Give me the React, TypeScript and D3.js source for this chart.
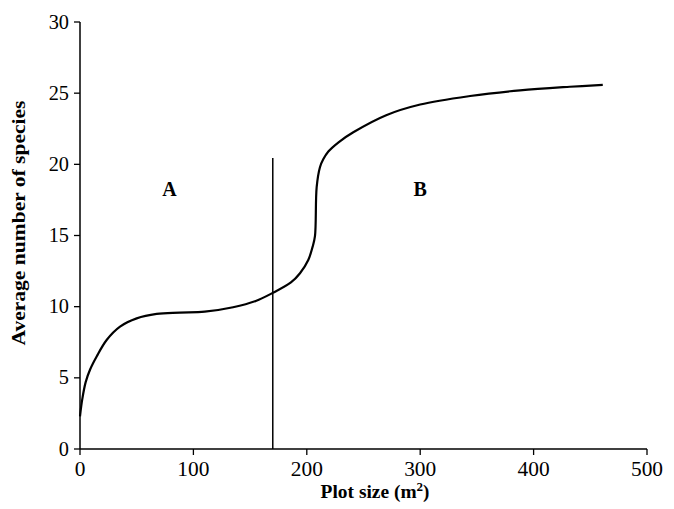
import React from "react";
import * as d3 from "d3";

const plotSizes = [0, 2, 5, 9, 14.7, 23.5, 35.3, 50, 67.6, 88, 110, 135, 155, 169.6, 186, 194, 201.3, 205.1, 207.2, 208.7, 211.6, 214.5, 219, 228, 241, 270, 300, 344, 388, 432, 461];
const species = [2.3, 3.5, 4.7, 5.6, 6.5, 7.66, 8.6, 9.18, 9.49, 9.58, 9.65, 9.96, 10.4, 10.95, 11.7, 12.35, 13.28, 14.2, 14.95, 18.4, 19.8, 20.35, 20.9, 21.55, 22.25, 23.45, 24.2, 24.8, 25.2, 25.45, 25.58];
const xTicks = [0, 100, 200, 300, 400, 500];
const yTicks = [0, 5, 10, 15, 20, 25, 30];
const divider = { x: 170, top: 20.45 };
const regionLabels = [
  { text: "A", x: 79, y: 17.8 },
  { text: "B", x: 300, y: 17.8 },
];

const W = 674, H = 509;
const m = { left: 80, right: 27, top: 22, bottom: 60 };
const font = "'Liberation Serif', 'DejaVu Serif', serif";

export default function App() {
  const x = d3.scaleLinear().domain([0, 500]).range([m.left, W - m.right]);
  const y = d3.scaleLinear().domain([0, 30]).range([H - m.bottom, m.top]);
  const pts: [number, number][] = plotSizes.map((v, i) => [v, species[i]]);
  const line = d3.line<[number, number]>().x(d => x(d[0])).y(d => y(d[1])).curve(d3.curveCatmullRom.alpha(0.5));
  const y0 = y(0);
  const tl = (t: number) => String(t).length * 10.7;
  return (
    <svg width={W} height={H} style={{ position: "absolute", left: 0, top: 0, background: "#fff" }}>
      <line x1={x(0)} x2={x(500)} y1={y0} y2={y0} stroke="#000" strokeWidth={1.5} />
      <line x1={x(0)} x2={x(0)} y1={y(0)} y2={y(30)} stroke="#000" strokeWidth={1.5} />
      {xTicks.map(t => (
        <g key={"x" + t}>
          <line x1={x(t)} x2={x(t)} y1={y0} y2={y0 + 6} stroke="#000" strokeWidth={1.3} />
          <text x={x(t)} y={y0 + 27} textAnchor="middle" fontFamily={font} fontSize={20} textLength={tl(t)} lengthAdjust="spacingAndGlyphs">{t}</text>
        </g>
      ))}
      {yTicks.map(t => (
        <g key={"y" + t}>
          <line x1={x(0) - 6} x2={x(0)} y1={y(t)} y2={y(t)} stroke="#000" strokeWidth={1.3} />
          <text x={x(0) - 11} y={y(t) + 6.5} textAnchor="end" fontFamily={font} fontSize={20} textLength={tl(t) * 0.95} lengthAdjust="spacingAndGlyphs">{t}</text>
        </g>
      ))}
      <line x1={x(divider.x)} x2={x(divider.x)} y1={y(0)} y2={y(divider.top)} stroke="#000" strokeWidth={1.5} />
      <path d={line(pts) || ""} fill="none" stroke="#000" strokeWidth={2.2} />
      {regionLabels.map(l => (
        <text key={l.text} x={x(l.x)} y={y(l.y)} textAnchor="middle" fontFamily={font} fontSize={20} fontWeight="bold">{l.text}</text>
      ))}
      <text x={375} y={498} textAnchor="middle" fontFamily={font} fontSize={19} fontWeight="bold">
        <tspan textLength={96} lengthAdjust="spacingAndGlyphs">Plot size (m</tspan><tspan dy={-7} fontSize={13}>2</tspan><tspan dy={7}>)</tspan>
      </text>
      <text transform={`translate(25, ${223}) rotate(-90)`} textAnchor="middle" fontFamily={font} fontSize={19} fontWeight="bold" textLength={245} lengthAdjust="spacingAndGlyphs">
        Average number of species
      </text>
    </svg>
  );
}
